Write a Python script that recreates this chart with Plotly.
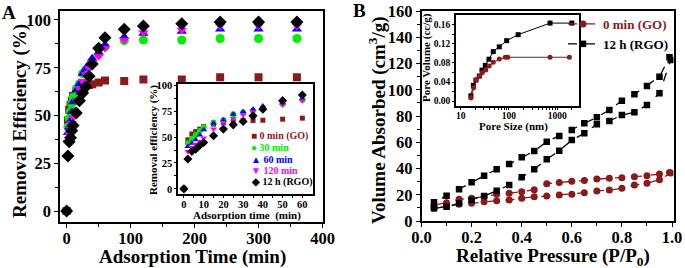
import plotly.graph_objects as go

W, H = 685, 268
SERIF = "Liberation Serif"


def px(x):
    return x / W


def py(y):
    return 1 - y / H


# ---------------- Panel A data ----------------
time_min = [0, 2, 4, 6, 8, 10, 15, 20, 25, 30, 35, 40, 50, 60, 90, 120, 180, 240, 300, 360]
eff_go = [0, 47.4, 53, 55.4, 57.7, 60.2, 62.5, 64, 65, 66, 66, 66.3, 67.3, 68.3, 68, 68.8, 68.8, 70, 70, 70]
eff_30 = [0, 44, 48.5, 52, 56, 59.5, 64, 66.6, 72, 74, 75.5, 78, 82, 86, 89.2, 89.5, 89.5, 90.3, 90.3, 90.3]
eff_60 = [0, 41, 44, 47.4, 52, 57, 63.4, 66.6, 72, 74.6, 77, 80, 83, 87, 91.2, 92.9, 94, 95.2, 95.2, 95.2]
eff_120 = [0, 36, 40, 43, 45.8, 49, 57.7, 64, 68, 71.4, 74.6, 77.9, 81, 85.2, 89.5, 93.5, 94.7, 96.9, 96.9, 96.9]
eff_rgo = [0, 28.8, 36.2, 38.4, 42, 44.8, 51.3, 57.7, 61.8, 65, 70.5, 76.9, 85.2, 90.7, 95.1, 96.9, 98, 98.9, 98.9, 98.9]
inset_n = 14  # inset shows the first 60 min

series_names = ["0 min (GO)", "30 min", "60 min", "120 min", "12 h (RGO)"]
series_vals = [eff_go, eff_30, eff_60, eff_120, eff_rgo]
series_colors = ["#8B1A1A", "#00EE00", "#0000FF", "#FF00FF", "#000000"]
series_symbols = ["square", "circle", "triangle-up", "triangle-down", "diamond"]
series_glyphs = ["\u25A0", "\u25CF", "\u25B2", "\u25BC", "\u25C6"]
main_sizes = [8, 9, 9, 9, 10]
inset_sizes = [5, 6, 6, 6, 7]

# ---------------- Panel B data ----------------
p_ads = [0.05, 0.10, 0.15, 0.20, 0.25, 0.30, 0.35, 0.40, 0.45, 0.50,
         0.55, 0.60, 0.65, 0.70, 0.75, 0.80, 0.85, 0.90, 0.95, 0.995]
p_des = [0.99, 0.95, 0.90, 0.85, 0.80, 0.75, 0.70, 0.65, 0.60, 0.55,
         0.50, 0.45, 0.40, 0.35, 0.30, 0.25, 0.20, 0.15, 0.10, 0.05]
go_ads = [9.7, 11.4, 12.7, 13.5, 14.7, 15.5, 16, 17.3, 18.5, 19,
          19.8, 20.3, 21.6, 22.9, 23.6, 24.9, 27.4, 28.7, 31.5, 36.5]
go_des = [37, 35.8, 34.5, 33.8, 33, 32.5, 32, 30.8, 30.2, 29.4,
          28.4, 23.8, 22.3, 21.1, 20.3, 18.5, 17.3, 16.5, 14, 12]
rgo_ads = [9.7, 10.9, 13.5, 16, 19, 23, 27.4, 33.3, 39.4, 47,
           53.6, 61.7, 66.8, 73.7, 76.2, 80.8, 82.8, 88.4, 97.3, 122.7]
rgo_des = [124.7, 110, 102.9, 96.5, 91.7, 84.6, 79, 74.4, 69.3, 64.8,
           60.4, 53.3, 48.5, 43.4, 39.4, 34.5, 29.5, 24.1, 19.3, 14.2]

pore_rgo = [16.3, 18.3, 20.7, 24.3, 27.6, 32.3, 38.5, 47.3, 63, 89.6, 155, 708, 2000]
pv_rgo = [0.011, 0.033, 0.044, 0.0526, 0.065, 0.075, 0.088, 0.104, 0.114, 0.127, 0.1396, 0.164, 0.164]
pore_go = [16.3, 18.5, 21, 24.3, 28, 33, 39, 47.3, 63, 84, 95, 708, 1780]
pv_go = [0.0063, 0.028, 0.045, 0.052, 0.0597, 0.065, 0.0737, 0.0814, 0.0884, 0.092, 0.092, 0.092, 0.092]

GO_RED = "#8B1A1A"

fig = go.Figure()

# Panel A main
for name, vals, col, sym, sz in zip(series_names, series_vals, series_colors, series_symbols, main_sizes):
    fig.add_trace(go.Scatter(x=time_min, y=vals, mode="markers", name=name, showlegend=False,
                             marker=dict(symbol=sym, color=col, size=sz, line=dict(width=0)),
                             xaxis="x", yaxis="y"))
# Panel A inset
for name, vals, col, sym, sz in zip(series_names, series_vals, series_colors, series_symbols, inset_sizes):
    fig.add_trace(go.Scatter(x=time_min[:inset_n], y=vals[:inset_n], mode="markers", name=name,
                             showlegend=False,
                             marker=dict(symbol=sym, color=col, size=sz, line=dict(width=0)),
                             xaxis="x2", yaxis="y2"))

# Panel B main
fig.add_trace(go.Scatter(x=p_ads + p_des, y=go_ads + go_des, mode="lines+markers",
                         name='<span style="color:%s">0 min (GO)</span>' % GO_RED,
                         line=dict(color=GO_RED, width=1.3, dash="dash"),
                         marker=dict(symbol="circle", color=GO_RED, size=7),
                         xaxis="x3", yaxis="y3"))
fig.add_trace(go.Scatter(x=p_ads + p_des, y=rgo_ads + rgo_des, mode="lines+markers",
                         name="12 h (RGO)",
                         line=dict(color="black", width=1.3, dash="dash"),
                         marker=dict(symbol="square", color="black", size=6.5),
                         xaxis="x3", yaxis="y3"))
# Panel B inset
fig.add_trace(go.Scatter(x=pore_rgo, y=pv_rgo, mode="lines+markers", showlegend=False,
                         line=dict(color="black", width=1), marker=dict(symbol="square", color="black", size=5),
                         xaxis="x4", yaxis="y4"))
fig.add_trace(go.Scatter(x=pore_go, y=pv_go, mode="lines+markers", showlegend=False,
                         line=dict(color=GO_RED, width=1), marker=dict(symbol="circle", color=GO_RED, size=5),
                         xaxis="x4", yaxis="y4"))


def axstyle(size, **kw):
    d = dict(showline=True, linecolor="black", linewidth=1.5, mirror=True,
             ticks="outside", ticklen=4, tickwidth=1.3, tickcolor="black",
             showgrid=False, zeroline=False, automargin=False,
             tickfont=dict(family=SERIF, size=size, color="black", weight="bold"))
    d.update(kw)
    return d


fig.update_layout(
    width=W, height=H, margin=dict(l=0, r=0, t=0, b=0, autoexpand=False),
    paper_bgcolor="white", plot_bgcolor="white",
    xaxis=axstyle(16.5, domain=[px(60), px(322.5)], range=[-10.4, 400], anchor="y",
                  tickvals=[0, 100, 200, 300, 400], ticklabelstandoff=-4,
                  minor=dict(ticks="outside", ticklen=3, tickvals=[50, 150, 250, 350])),
    yaxis=axstyle(16.5, domain=[py(222), py(11)], range=[-5.76, 104.7], anchor="x",
                  tickvals=[0, 25, 50, 75, 100],
                  minor=dict(ticks="outside", ticklen=3, tickvals=[12.5, 37.5, 62.5, 87.5])),
    xaxis2=axstyle(10.5, domain=[px(178), px(313)], range=[-3, 65.4], anchor="y2",
                   tickvals=[0, 10, 20, 30, 40, 50, 60], ticklen=2, ticklabelstandoff=-2,
                   minor=dict(ticks="outside", ticklen=2, tickvals=[5, 15, 25, 35, 45, 55])),
    yaxis2=axstyle(10.5, domain=[py(194), py(84)], range=[-5, 101.3], anchor="x2",
                   tickvals=[0, 25, 50, 75, 100], ticklen=2,
                   minor=dict(ticks="outside", ticklen=2, tickvals=[12.5, 37.5, 62.5, 87.5])),
    xaxis3=axstyle(16.5, domain=[px(421.5), px(673.5)], range=[0, 1.006], anchor="y3",
                   tickvals=[0, 0.2, 0.4, 0.6, 0.8, 1.0], tickformat=".1f", ticklabelstandoff=-4,
                   minor=dict(ticks="outside", ticklen=3, tickvals=[0.1, 0.3, 0.5, 0.7, 0.9])),
    yaxis3=axstyle(16.5, domain=[py(221), py(11)], range=[0, 160], anchor="x3",
                   tickvals=[0, 20, 40, 60, 80, 100, 120, 140, 160],
                   minor=dict(ticks="outside", ticklen=3, tickvals=[10, 30, 50, 70, 90, 110, 130, 150])),
    xaxis4=axstyle(9.5, type="log", domain=[px(456), px(579)], range=[0.903, 3.45], anchor="y4",
                   tickvals=[10, 100, 1000], ticktext=["10", "100", "1000"], ticklen=2,
                   ticklabelstandoff=-2,
                   minor=dict(ticks="outside", ticklen=2,
                              tickvals=[20, 30, 40, 50, 60, 70, 80, 90, 200, 300, 400, 500, 600, 700, 800, 900, 2000])),
    yaxis4=axstyle(9.5, domain=[py(106), py(15)], range=[-0.0105, 0.181], anchor="x4",
                   tickvals=[0, 0.04, 0.08, 0.12, 0.16], tickformat=".2f", ticklen=2,
                   minor=dict(ticks="outside", ticklen=2, tickvals=[0.02, 0.06, 0.10, 0.14])),
    legend=dict(x=px(563), y=py(9), xanchor="left", yanchor="top", bgcolor="rgba(0,0,0,0)",
                font=dict(family=SERIF, size=13, color="black", weight="bold"), itemwidth=30),
)


def ann(text, x, y, size, angle=0, color="black", xanchor="center"):
    fig.add_annotation(text=text, x=px(x), y=py(y), xref="paper", yref="paper",
                       showarrow=False, textangle=angle, xanchor=xanchor, yanchor="middle",
                       font=dict(family=SERIF, size=size, color=color, weight="bold"))


ann("A", 9, 12, 19)
ann("B", 359, 11, 19)
ann("Removal Efficiency (%)", 20, 121, 19, angle=-90)
ann("Adsorption Time (min)", 192, 256.5, 19)
ann("Removal efficiency (%)", 153, 140, 11, angle=-90)
ann("Adsorption time  (min)", 247, 215, 11)
ann("Volume Absorbed (cm<sup>3</sup>/g)", 378, 120, 19, angle=-90)
ann("Relative Pressure (P/P<sub>0</sub>)", 553, 256.5, 19)
ann("Pore Volume (cc/g)", 426, 57, 11, angle=-90)
ann("Pore Size (nm)", 513, 126, 11)

legend_ys = [136, 147.5, 159, 170.5, 182]
for name, col, glyph, yy in zip(series_names, series_colors, series_glyphs, legend_ys):
    ann(glyph + " " + name, 249, yy, 10, color=col, xanchor="left")

# remove the browser's default 8px page margin so the figure sits at (0, 0)
fig.write_html("out.html", config={"displayModeBar": False},
               post_script="document.body.style.margin='0px';")
